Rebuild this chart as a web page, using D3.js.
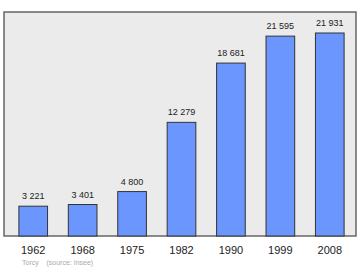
<!DOCTYPE html>
<html>
<head>
<meta charset="utf-8">
<script src="https://cdn.jsdelivr.net/npm/d3@7"></script>
<style>
  body { margin: 0; background: #fff; }
  text { font-family: "Liberation Sans", Arial, sans-serif; }
</style>
</head>
<body>
<div id="chart"></div>
<script>
// Population data (Torcy)
const years = ["1962", "1968", "1975", "1982", "1990", "1999", "2008"];
const population = [3221, 3401, 4800, 12279, 18681, 21595, 21931];
const yMax = 24200;

const width = 360;
const height = 270;
const margin = { top: 12, right: 4, bottom: 34, left: 4 };

const svg = d3.select("#chart")
    .append("svg")
    .attr("width", width)
    .attr("height", height);

const x = d3.scaleBand()
    .domain(years)
    .range([margin.left + 5, width - margin.right - 2])
    .paddingInner(0.42)
    .paddingOuter(0.2);

const y = d3.scaleLinear()
    .domain([0, yMax])
    .range([height - margin.bottom, margin.top]);

// plot frame
svg.append("rect")
    .attr("x", margin.left)
    .attr("y", margin.top)
    .attr("width", width - margin.left - margin.right)
    .attr("height", height - margin.top - margin.bottom)
    .attr("fill", "#ebebeb")
    .attr("stroke", "#666")
    .attr("stroke-width", 1.5);

// bars
svg.selectAll("rect.bar")
    .data(population)
    .enter()
    .append("rect")
    .attr("class", "bar")
    .attr("x", (d, i) => x(years[i]))
    .attr("y", d => y(d))
    .attr("width", x.bandwidth())
    .attr("height", d => y(0) - y(d))
    .attr("fill", "#6b96fe")
    .attr("stroke", "#333")
    .attr("stroke-width", 1);

// value labels
const fmt = d3.formatLocale({ decimal: ",", thousands: " ", grouping: [3], currency: ["", ""] }).format(",");
svg.selectAll("text.val")
    .data(population)
    .enter()
    .append("text")
    .attr("class", "val")
    .attr("x", (d, i) => x(years[i]) + x.bandwidth() / 2)
    .attr("y", d => y(d) - 7)
    .attr("text-anchor", "middle")
    .attr("font-size", 9)
    .attr("fill", "#222")
    .text(d => fmt(d));

// x axis labels
const xAxis = svg.append("g")
    .attr("transform", `translate(0, ${height - margin.bottom})`)
    .call(d3.axisBottom(x).tickSize(0).tickPadding(10));
xAxis.select(".domain").remove();
xAxis.selectAll("text")
    .attr("font-size", 11)
    .attr("fill", "#222")
    .style("font-family", "Liberation Sans, Arial, sans-serif");

// source note
svg.append("text")
    .attr("x", 22)
    .attr("y", 265)
    .attr("font-size", 7)
    .attr("fill", "#aaa")
    .attr("xml:space", "preserve")
    .text("Torcy    (source: Insee)");
</script>
</body>
</html>
